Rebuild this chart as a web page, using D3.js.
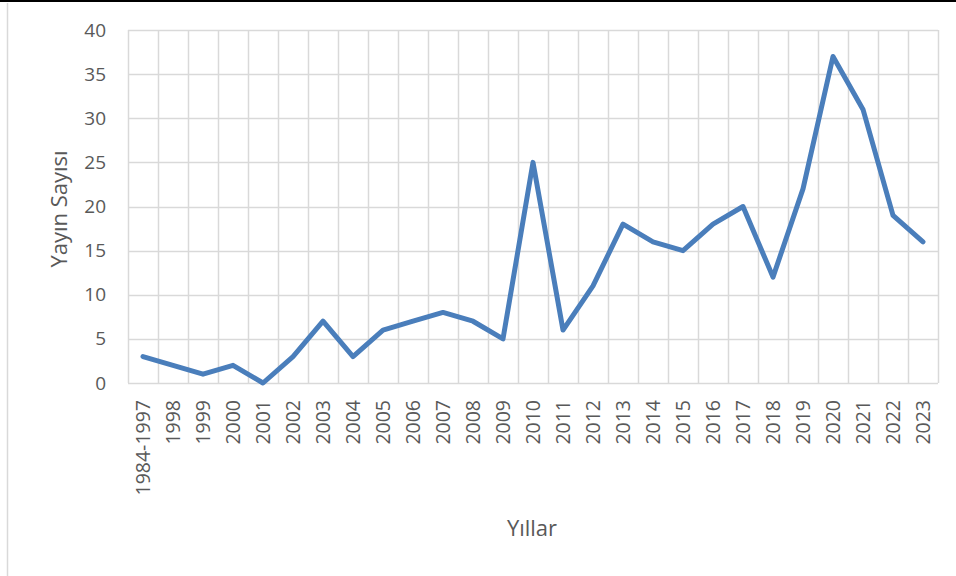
<!DOCTYPE html>
<html>
<head>
<meta charset="utf-8">
<script src="https://cdn.jsdelivr.net/npm/d3@7"></script>
<style>
  body { margin: 0; background: #fff; }
  svg { display: block; }
</style>
</head>
<body>
<div id="chart"></div>
<script>
// chart data
const years = ['1984-1997', '1998', '1999', '2000', '2001', '2002', '2003', '2004', '2005',
    '2006', '2007', '2008', '2009', '2010', '2011', '2012', '2013', '2014', '2015', '2016',
    '2017', '2018', '2019', '2020', '2021', '2022', '2023'];
const counts = [3, 2, 1, 2, 0, 3, 7, 3, 6, 7, 8, 7, 5, 25, 6, 11, 18, 16, 15, 18, 20, 12, 22, 37, 31, 19, 16];
const yTicks = [0, 5, 10, 15, 20, 25, 30, 35, 40];

const width = 956, height = 576;
const margin = { top: 30, right: 18, bottom: 193, left: 128 };

const svg = d3.select('#chart')
    .append('svg')
    .attr('width', width)
    .attr('height', height);

// frame lines of the original figure
svg.append('line')
    .attr('x1', 0).attr('x2', width).attr('y1', 1).attr('y2', 1)
    .style('stroke', '#000').style('stroke-width', 2);
svg.append('line')
    .attr('x1', 7.5).attr('x2', 7.5).attr('y1', 3).attr('y2', height)
    .style('stroke', '#d9d9d9').style('stroke-width', 1.5);

const x = d3.scaleBand()
    .domain(years)
    .range([margin.left, width - margin.right]);

const y = d3.scaleLinear()
    .domain([0, 40])
    .range([height - margin.bottom, margin.top]);

const grid = svg.append('g');

// horizontal grid
grid.selectAll('line.h')
    .data(yTicks)
    .enter()
    .append('line')
    .attr('x1', margin.left)
    .attr('x2', width - margin.right)
    .attr('y1', d => Math.round(y(d)) + 0.5)
    .attr('y2', d => Math.round(y(d)) + 0.5)
    .style('stroke', '#d9d9d9')
    .style('stroke-width', 1.5);

// vertical grid at band edges
const edges = years.map(d => x(d)).concat([x.range()[1]]);
grid.selectAll('line.v')
    .data(edges)
    .enter()
    .append('line')
    .attr('x1', d => Math.round(d) + 0.5)
    .attr('x2', d => Math.round(d) + 0.5)
    .attr('y1', margin.top)
    .attr('y2', height - margin.bottom)
    .style('stroke', '#d9d9d9')
    .style('stroke-width', 1.5);

// y tick labels
const yAxis = d3.axisLeft(y).tickValues(yTicks).tickSize(0).tickPadding(22);
svg.append('g')
    .attr('transform', `translate(${margin.left},0)`)
    .call(yAxis)
    .call(g => g.select('.domain').remove())
    .selectAll('text')
    .style('font-family', '"Open Sans", sans-serif')
    .style('font-size', '19px')
    .style('fill', '#595959');

// x tick labels, rotated
const xAxis = d3.axisBottom(x).tickSize(0).tickPadding(0);
svg.append('g')
    .attr('transform', `translate(0,${height - margin.bottom})`)
    .call(xAxis)
    .call(g => g.select('.domain').remove())
    .selectAll('text')
    .attr('transform', 'rotate(-90)')
    .attr('x', -17)
    .attr('y', 0)
    .attr('dy', '0.35em')
    .style('text-anchor', 'end')
    .style('font-family', '"Open Sans", sans-serif')
    .style('font-size', '19.5px')
    .style('fill', '#595959');

// the series line
const line = d3.line()
    .x((d, i) => x(years[i]) + x.bandwidth() / 2)
    .y(d => y(d));

svg.append('path')
    .datum(counts)
    .attr('d', line)
    .style('fill', 'none')
    .style('stroke', '#4a7ebb')
    .style('stroke-width', 5)
    .style('stroke-linejoin', 'round')
    .style('stroke-linecap', 'round');

// axis titles
svg.append('text')
    .attr('x', 532)
    .attr('y', 536)
    .attr('text-anchor', 'middle')
    .text('Yıllar')
    .style('font-family', '"Open Sans", sans-serif')
    .style('font-size', '22px')
    .style('fill', '#595959');

svg.append('text')
    .attr('transform', 'translate(67,209) rotate(-90)')
    .attr('text-anchor', 'middle')
    .text('Yayın Sayısı')
    .style('font-family', '"Open Sans", sans-serif')
    .style('font-size', '22px')
    .style('fill', '#595959');
</script>
</body>
</html>
